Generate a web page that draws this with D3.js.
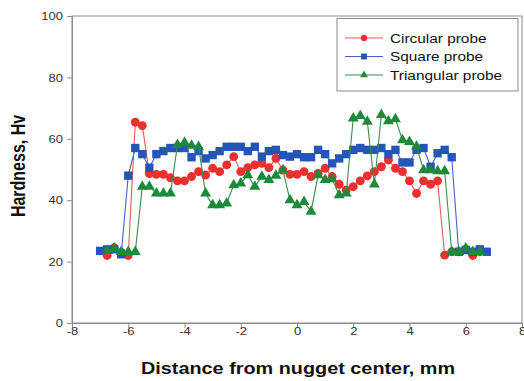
<!DOCTYPE html>
<html>
<head>
<meta charset="utf-8">
<script src="https://cdn.jsdelivr.net/npm/d3@7/dist/d3.min.js"></script>
<style>
  html, body { margin: 0; padding: 0; background: #fff; }
  svg { display: block; }
  text { font-family: "Liberation Sans", Arial, sans-serif; }
</style>
</head>
<body>
<svg id="chart" width="524" height="381"></svg>
<script>
// Hardness profile across the weld nugget (0.25 mm steps)
const distance = [
  -7, -6.75, -6.5, -6.25, -6, -5.75, -5.5, -5.25, -5, -4.75, -4.5, -4.25, -4, -3.75,
  -3.5, -3.25, -3, -2.75, -2.5, -2.25, -2, -1.75, -1.5, -1.25, -1, -0.75, -0.5, -0.25,
  0, 0.25, 0.5, 0.75, 1, 1.25, 1.5, 1.75, 2, 2.25, 2.5, 2.75, 3, 3.25,
  3.5, 3.75, 4, 4.25, 4.5, 4.75, 5, 5.25, 5.5, 5.75, 6, 6.25, 6.5, 6.75
];

const circular = [
  null, 22, 24.5, 23, 22, 65.4, 64.3, 48.7, 48.4, 48.4, 47.3, 46.3, 46.3, 47.7,
  49.3, 48.2, 50.4, 49.3, 51.5, 54.2, 49.3, 50.6, 51.5, 52, 50.6, 53.6, 49.8, 48.4,
  48.4, 49.3, 47.7, 48.7, 50.4, 47.7, 45.2, 43.3, 44.4, 46.3, 47.9, 49.3, 50.9, 53.1,
  50.4, 49.3, 46.3, 42.2, 46.3, 45.2, 46.3, 22.1, 23.2, 23.2, 24, 22, 23.2, null
];

const square = [
  23.5, 24, 24, 22.4, 48, 57, 55, 50.6, 55, 56, 57, 57, 57, 54,
  56, 53.6, 54.7, 56, 57.4, 57.4, 57.4, 56, 57.4, 54.2, 56, 56.4, 54.7, 54.2,
  55, 54, 54, 56.4, 55, 52, 53.6, 55, 56.4, 57, 56.4, 56.4, 57, 55,
  56.4, 52.3, 52.3, 56.4, 57, 50.9, 55.3, 56.4, 54, 23.2, 23.8, 23.2, 24, 23.2
];

const triangular = [
  null, 23.5, 24.3, 23.2, 23.2, 23.2, 44.4, 44.4, 42.2, 42.2, 42.2, 58, 58.8, 57.8,
  57.4, 42.2, 38.4, 38.4, 39, 44.9, 45.5, 48.2, 44.4, 47.7, 46.6, 48, 49.8, 40,
  38.4, 39.5, 36.3, 48.2, 46.6, 46.9, 41.7, 42.2, 66.7, 67.5, 65.6, 45.2, 67.8, 65.8,
  66.4, 59.6, 59, 57.5, 49.8, 49.8, 49.5, 49.5, 23.2, 23.2, 24.3, 23.2, 23.2, null
];

const xTicks = [-8, -6, -4, -2, 0, 2, 4, 6, 8];
const yTicks = [0, 20, 40, 60, 80, 100];
const seriesNames = ["Circular probe", "Square probe", "Triangular probe"];

const series = [
  { name: seriesNames[0], values: circular, line: "#e85a55", fill: "#ec2f2f", symbol: d3.symbolCircle, size: 62 },
  { name: seriesNames[1], values: square, line: "#4565c4", fill: "#2456b8", symbol: d3.symbolSquare, size: 70 },
  { name: seriesNames[2], values: triangular, line: "#3b8c4c", fill: "#1d8a3a", symbol: d3.symbolTriangle, size: 52 }
];

const svg = d3.select("#chart");
const plotLeft = 72, plotRight = 522, plotTop = 16, plotBottom = 323;
const stretch = 1.24;
const plainNumber = d => String(d);

const x = d3.scaleLinear().domain([-8, 8]).range([plotLeft, plotRight]);
const y = d3.scaleLinear().domain([0, 100]).range([plotBottom, plotTop]);

// plot frame
svg.append("rect")
  .attr("x", plotLeft).attr("y", plotTop)
  .attr("width", plotRight - plotLeft).attr("height", plotBottom - plotTop)
  .attr("fill", "none").attr("stroke", "#8c8c8c").attr("stroke-width", 1);

// x axis
const gx = svg.append("g")
  .attr("transform", `translate(0,${plotBottom})`)
  .call(d3.axisBottom(x).tickValues(xTicks).tickSize(5).tickFormat(plainNumber));
gx.select(".domain").attr("stroke", "#8c8c8c");
gx.selectAll(".tick line").attr("stroke", "#8c8c8c");
gx.selectAll(".tick text")
  .attr("y", null).attr("dy", null)
  .attr("transform", `translate(0,12) scale(${stretch},1)`)
  .attr("fill", "#333").style("font-size", "10.5px");

// y axis
const gy = svg.append("g")
  .attr("transform", `translate(${plotLeft},0)`)
  .call(d3.axisLeft(y).tickValues(yTicks).tickSize(5).tickFormat(plainNumber));
gy.select(".domain").attr("stroke", "#8c8c8c");
gy.selectAll(".tick line").attr("stroke", "#8c8c8c");
gy.selectAll(".tick text")
  .attr("x", null).attr("dy", "0.36em")
  .attr("transform", `translate(-9,0) scale(${stretch},1)`)
  .attr("fill", "#333").style("font-size", "10.5px");

// axis titles
svg.append("text")
  .attr("transform", `translate(${(plotLeft + plotRight) / 2 + 1},374) scale(${stretch},1)`)
  .attr("text-anchor", "middle")
  .style("font-size", "16px").style("font-weight", "bold")
  .attr("fill", "#111")
  .text("Distance from nugget center, mm");

svg.append("text")
  .attr("transform", `translate(24.5,166) scale(${stretch},1) rotate(-90)`)
  .attr("text-anchor", "middle")
  .style("font-size", "16px").style("font-weight", "bold")
  .attr("fill", "#111")
  .text("Hardness, Hv");

// series lines and markers
const line = d3.line()
  .defined(d => d[1] !== null)
  .x(d => x(d[0]))
  .y(d => y(d[1]));

series.forEach(s => {
  const pts = distance.map((dx, i) => [dx, s.values[i]]);
  const g = svg.append("g");
  g.append("path")
    .datum(pts)
    .attr("d", line)
    .attr("fill", "none")
    .attr("stroke", s.line)
    .attr("stroke-width", 1.1);
  g.selectAll("path.mark")
    .data(pts.filter(d => d[1] !== null))
    .join("path")
    .attr("class", "mark")
    .attr("transform", d => `translate(${x(d[0])},${y(d[1])})`)
    .attr("d", d3.symbol().type(s.symbol).size(s.size))
    .attr("fill", s.fill);
});

// legend
const legend = svg.append("g");
legend.append("rect")
  .attr("x", 337).attr("y", 18.5)
  .attr("width", 181).attr("height", 72.5)
  .attr("fill", "#fff").attr("stroke", "#8c8c8c").attr("stroke-width", 1);
const rowY = [38, 56.5, 75];
series.forEach((s, i) => {
  const ry = rowY[i];
  legend.append("line")
    .attr("x1", 345).attr("x2", 383)
    .attr("y1", ry).attr("y2", ry)
    .attr("stroke", s.line).attr("stroke-width", 1.1);
  legend.append("path")
    .attr("transform", `translate(364,${ry})`)
    .attr("d", d3.symbol().type(s.symbol).size(s.size * 0.5))
    .attr("fill", s.fill);
  legend.append("text")
    .attr("transform", `translate(390,${ry + 4.5}) scale(1.23,1)`)
    .style("font-size", "12.5px")
    .attr("fill", "#111")
    .text(s.name);
});
</script>
</body>
</html>
